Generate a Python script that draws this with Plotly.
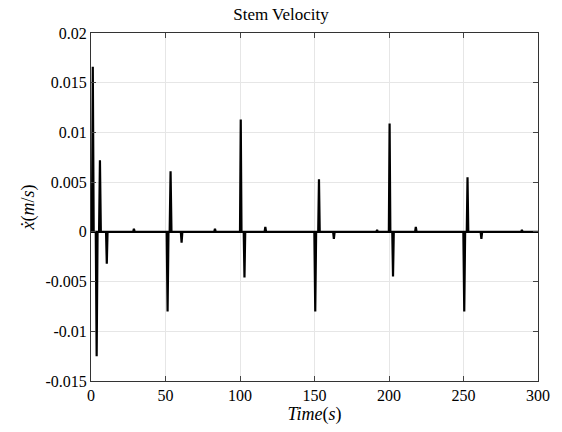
import plotly.graph_objects as go

time_s = [0, 0.6, 1.2, 1.8, 3.2, 3.8, 4.4, 5.4, 6.0, 6.6, 10.1, 10.6, 11.1,
          28.3, 28.8, 29.3,
          50.8, 51.4, 52.0, 52.8, 53.4, 54.0, 60.3, 60.8, 61.3,
          82.7, 83.2, 83.7,
          100.0, 100.5, 101.0, 102.5, 103.0, 103.5,
          116.5, 117.0, 117.5,
          149.9, 150.5, 151.1, 152.5, 153.0, 153.5, 162.5, 163.0, 163.5,
          191.5, 192.0, 192.5,
          199.9, 200.4, 200.9, 202.2, 202.7, 203.2,
          217.5, 218.0, 218.5,
          249.9, 250.5, 251.1, 252.2, 252.7, 253.2, 261.5, 262.0, 262.5,
          288.7, 289.2, 289.7, 300]
velocity = [0, 0, 0.0166, 0, 0, -0.0125, 0, 0, 0.0072, 0, 0, -0.0032, 0,
            0, 0.0003, 0,
            0, -0.0080, 0, 0, 0.0061, 0, 0, -0.0011, 0,
            0, 0.0003, 0,
            0, 0.0113, 0, 0, -0.0046, 0,
            0, 0.0005, 0,
            0, -0.0080, 0, 0, 0.0053, 0, 0, -0.0007, 0,
            0, 0.0002, 0,
            0, 0.0109, 0, 0, -0.0045, 0,
            0, 0.0005, 0,
            0, -0.0080, 0, 0, 0.0055, 0, 0, -0.0007, 0,
            0, 0.0002, 0, 0]

y_ticks = [-0.015, -0.01, -0.005, 0, 0.005, 0.01, 0.015, 0.02]
y_labels = ["-0.015", "-0.01", "-0.005", "0", "0.005", "0.01", "0.015", "0.02"]
x_ticks = [0, 50, 100, 150, 200, 250, 300]

fig = go.Figure()
fig.add_trace(go.Scatter(x=time_s, y=velocity, mode="lines",
                         line=dict(color="black", width=2.2), showlegend=False))

fig.update_layout(
    width=562, height=432,
    margin=dict(l=91, r=24, t=33, b=51),
    paper_bgcolor="white", plot_bgcolor="white",
    font=dict(family="Liberation Serif, DejaVu Serif, serif", size=16, color="black"),
    title=dict(text="Stem Velocity", x=0.5, xanchor="center", y=0.968, yanchor="middle",
               font=dict(size=17, color="black")),
)
fig.update_xaxes(range=[0, 300], tickvals=x_ticks, ticks="inside", ticklen=5,
                 showline=True, linecolor="#333", linewidth=1, mirror="ticks",
                 showgrid=True, gridcolor="#e6e6e6", zeroline=False, automargin=False,
                 title=dict(text="<i>Time</i>(<i>s</i>)", standoff=0, font=dict(size=18)))
fig.update_yaxes(range=[-0.015, 0.02], tickvals=y_ticks, ticktext=y_labels,
                 ticks="inside", ticklen=5,
                 showline=True, linecolor="#333", linewidth=1, mirror="ticks",
                 showgrid=True, gridcolor="#e6e6e6", zeroline=False, automargin=False,
                 title=dict(text="<i>ẋ</i>(<i>m</i>/<i>s</i>)", standoff=6, font=dict(size=18)))

fig.write_html("out.html", config={"displayModeBar": False},
               post_script="document.body.style.margin='0';")
